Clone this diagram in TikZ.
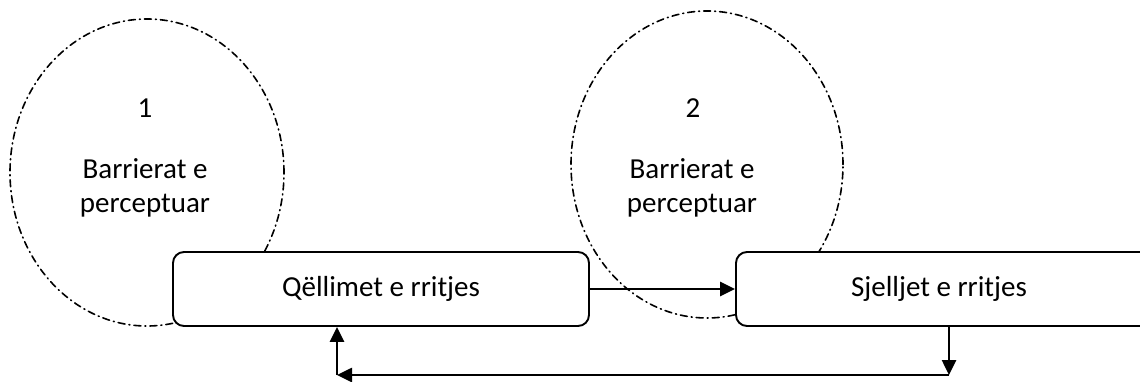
\documentclass[tikz,border=0pt]{standalone}
\usepackage{fontspec}
\setmainfont{Carlito}
\usetikzlibrary{arrows.meta}
\tikzset{
  x=1pt, y=1pt,
  barrier/.style={draw, line width=1.6pt, line cap=round,
    dash pattern=on 7pt off 4pt on 1pt off 4pt},
  procbox/.style={draw, fill=white, line width=1.9pt, rounded corners=11pt,
    minimum height=74pt, inner sep=0pt, font=\fontsize{29}{34}\selectfont},
  label/.style={inner sep=0pt, font=\fontsize{29}{34}\selectfont},
  flow/.style={line width=2.6pt, -{Triangle[length=15pt,width=14pt]}},
}
\begin{document}
\begin{tikzpicture}
\clip (0,0) rectangle (1140,381);
\fill[white] (0,0) rectangle (1140,381);

% perceived-barrier regions
\draw[barrier] (147,208.5) ellipse [x radius=137, y radius=153.5];
\draw[barrier] (707,216.5) ellipse [x radius=136, y radius=153.5];

\node[label] (n1) at (145,273) {1};
\node[label, align=center] (b1) at (145,193) {Barrierat e\\perceptuar};
\node[label] (n2) at (693,273) {2};
\node[label, align=center] (b2) at (692,193) {Barrierat e\\perceptuar};

% process boxes
\node[procbox, minimum width=416pt] (goals) at (381,92) {Qëllimet e rritjes};
\node[procbox, minimum width=420pt] (behav) at (946,92) {\hspace*{-14pt}Sjelljet e rritjes};

% forward link and feedback loop
\draw[flow] (goals.east) -- (behav.west);
\coordinate (c1) at (949,6);
\coordinate (c2) at (337,6);
\draw[flow] (behav.south -| c1) -- (c1);
\draw[flow] (c1) -- (c2);
\draw[flow] (c2) -- (goals.south -| c2);
\end{tikzpicture}
\end{document}
